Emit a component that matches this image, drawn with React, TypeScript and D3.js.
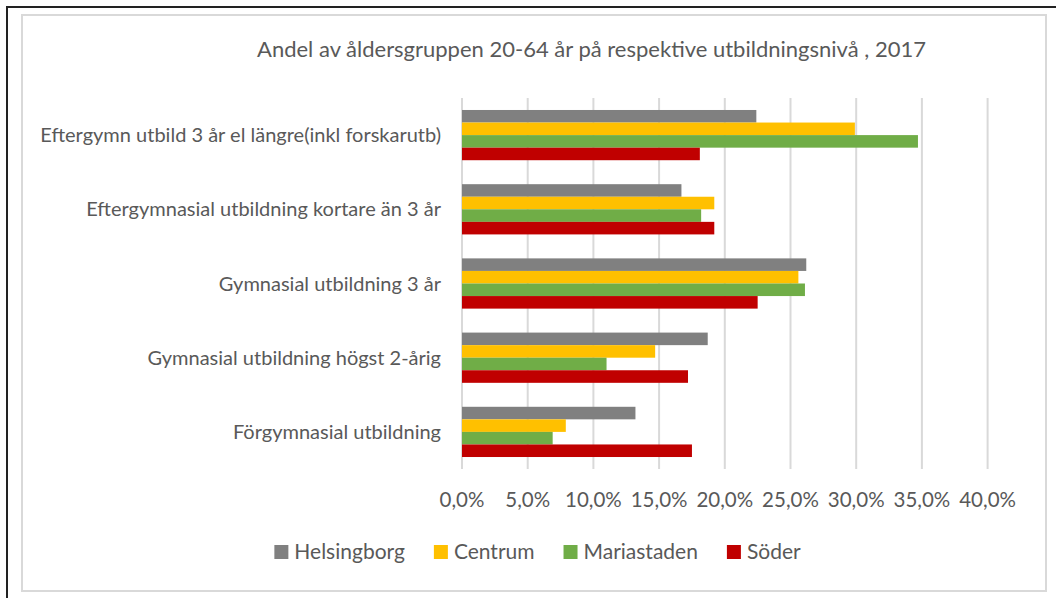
import * as d3 from 'd3';
import { useEffect, useRef } from 'react';

const categories = [
    "Eftergymn utbild 3 år el längre(inkl forskarutb)",
    "Eftergymnasial utbildning kortare än 3 år",
    "Gymnasial utbildning 3 år",
    "Gymnasial utbildning högst 2-årig",
    "Förgymnasial utbildning",
];

const seriesNames = ["Helsingborg", "Centrum", "Mariastaden", "Söder"];
const seriesColors = ["#808080", "#ffc000", "#70ad47", "#c00000"];

// values in percent, same order as categories
const helsingborg = [22.4, 16.7, 26.2, 18.7, 13.2];
const centrum = [29.9, 19.2, 25.6, 14.7, 7.9];
const mariastaden = [34.7, 18.2, 26.1, 11.0, 6.9];
const soder = [18.1, 19.2, 22.5, 17.2, 17.5];

const seriesValues = [helsingborg, centrum, mariastaden, soder];
const xTicks = [0, 5, 10, 15, 20, 25, 30, 35, 40];

const title = "Andel av åldersgruppen 20-64 år på respektive utbildningsnivå , 2017";

const W = 1056;
const H = 598;
const FONT = "Lato, 'Open Sans', sans-serif";
const TEXT = "#595959";

const App = () => {
    const ref = useRef<SVGSVGElement>(null);

    useEffect(() => {
        const svg = d3.select(ref.current);
        svg.selectAll("*").remove();

        // outer frame + chart area frame
        svg.append("rect")
            .attr("x", 7).attr("y", 7).attr("width", W).attr("height", H)
            .attr("fill", "none").attr("stroke", "#222").attr("stroke-width", 2);
        svg.append("rect")
            .attr("x", 22).attr("y", 15).attr("width", 1024).attr("height", 576)
            .attr("fill", "#fff").attr("stroke", "#d9d9d9").attr("stroke-width", 2);

        const plot = { left: 462, right: 987.6, top: 98, bottom: 469 };

        const x = d3.scaleLinear().domain([0, 40]).range([plot.left, plot.right]);
        const y = d3.scaleBand<string>()
            .domain(categories)
            .range([plot.top, plot.bottom])
            .paddingInner(0.323)
            .paddingOuter(0.1615);
        const ySub = d3.scaleBand<number>()
            .domain(d3.range(seriesNames.length))
            .range([0, y.bandwidth()]);

        // title
        svg.append("text")
            .attr("x", 591.5).attr("y", 57)
            .attr("text-anchor", "middle")
            .attr("font-family", FONT).attr("font-size", 22)
            .attr("fill", TEXT)
            .text(title);

        // gridlines
        svg.append("g")
            .selectAll("line")
            .data(xTicks)
            .join("line")
            .attr("x1", d => x(d)).attr("x2", d => x(d))
            .attr("y1", plot.top).attr("y2", plot.bottom)
            .attr("stroke", "#d9d9d9").attr("stroke-width", 2);

        // bars
        const groups = svg.append("g")
            .selectAll("g")
            .data(categories)
            .join("g")
            .attr("transform", c => `translate(0,${y(c)})`);

        groups.selectAll("rect")
            .data((c, ci) => seriesValues.map((vals, si) => ({ si, v: vals[ci] })))
            .join("rect")
            .attr("x", x(0))
            .attr("y", d => ySub(d.si)!)
            .attr("width", d => x(d.v) - x(0))
            .attr("height", ySub.bandwidth())
            .attr("fill", d => seriesColors[d.si]);

        // category labels
        svg.append("g")
            .selectAll("text")
            .data(categories)
            .join("text")
            .attr("x", 441)
            .attr("y", c => y(c)! + y.bandwidth() / 2)
            .attr("dy", "0.35em")
            .attr("text-anchor", "end")
            .attr("font-family", FONT).attr("font-size", 20)
            .attr("fill", TEXT)
            .text(c => c);

        // x tick labels
        svg.append("g")
            .selectAll("text")
            .data(xTicks)
            .join("text")
            .attr("x", d => x(d))
            .attr("y", 507)
            .attr("text-anchor", "middle")
            .attr("font-family", FONT).attr("font-size", 20.5)
            .attr("fill", TEXT)
            .text(d => d.toFixed(1).replace(".", ",") + "%");

        // legend, centred in the chart area
        const legend = svg.append("g");
        const items = legend.selectAll("g")
            .data(seriesNames)
            .join("g");
        items.append("rect")
            .attr("width", 14).attr("height", 14)
            .attr("y", -14)
            .attr("fill", (d, i) => seriesColors[i]);
        items.append("text")
            .attr("x", 20)
            .attr("font-family", FONT).attr("font-size", 21)
            .attr("fill", TEXT)
            .text(d => d);

        let offset = 0;
        items.each(function () {
            const g = d3.select(this);
            g.attr("transform", `translate(${offset},0)`);
            const tw = (g.select("text").node() as SVGTextElement).getComputedTextLength();
            offset += 20 + tw + 29;
        });
        const total = offset - 29;
        legend.attr("transform", `translate(${537.5 - total / 2},559)`);
    }, []);

    return (
        <div style={{ position: "absolute", left: 0, top: 0 }}>
            <svg ref={ref} width={W} height={H} style={{ display: "block" }} />
        </div>
    );
};

export default App;
